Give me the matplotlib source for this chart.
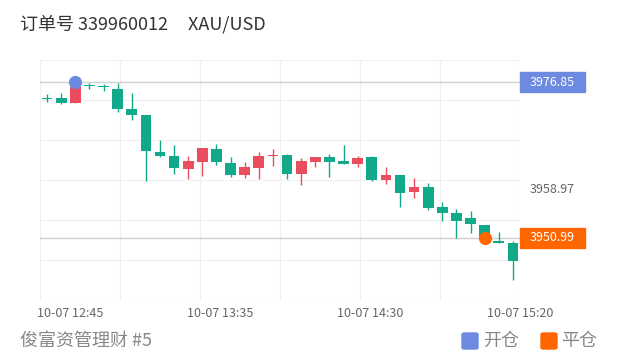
import matplotlib
matplotlib.use("Agg")
import matplotlib.pyplot as plt
import matplotlib.transforms as mtransforms
from matplotlib.patches import Rectangle, FancyBboxPatch
import numpy as np

plt.rcParams['font.family'] = ['Noto Sans CJK SC', 'DejaVu Sans']

# ---- data ----
opens = [3974.07, 3974.19, 3973.36, 3976.35, 3976.24, 3975.74, 3972.36, 3971.41, 3965.30, 3964.64,
         3962.42, 3963.64, 3965.75, 3963.47, 3961.42, 3962.64, 3964.55, 3964.75, 3961.59, 3963.64,
         3964.42, 3963.70, 3963.22, 3964.37, 3960.59, 3961.42, 3958.65, 3959.38, 3956.02, 3955.10,
         3954.27, 3953.02, 3950.44, 3950.16]
highs = [3974.85, 3975.12, 3976.90, 3976.69, 3976.57, 3976.79, 3975.07, 3971.45, 3967.25, 3966.42,
         3964.59, 3965.90, 3966.50, 3964.34, 3963.64, 3965.20, 3965.75, 3964.92, 3964.26, 3964.50,
         3964.97, 3966.42, 3964.59, 3964.59, 3962.71, 3961.50, 3960.87, 3960.09, 3956.93, 3955.82,
         3955.43, 3953.10, 3952.00, 3950.36]
lows = [3973.62, 3973.30, 3973.36, 3975.69, 3975.45, 3971.96, 3970.58, 3960.42, 3964.50, 3961.59,
        3960.68, 3961.26, 3963.09, 3961.01, 3960.87, 3960.71, 3962.84, 3960.71, 3959.76, 3962.71,
        3961.01, 3963.20, 3962.71, 3960.50, 3959.96, 3956.05, 3957.55, 3955.55, 3953.77, 3950.94,
        3951.72, 3950.70, 3950.06, 3944.03]
closes = [3974.07, 3973.36, 3976.00, 3976.18, 3976.02, 3972.36, 3971.36, 3965.42, 3964.59, 3962.64,
          3963.76, 3965.87, 3963.51, 3961.42, 3962.81, 3964.62, 3964.67, 3961.59, 3963.70, 3964.42,
          3963.54, 3963.26, 3964.26, 3960.59, 3961.42, 3958.48, 3959.48, 3955.98, 3955.02, 3953.82,
          3953.24, 3950.90, 3950.16, 3947.16]
tick_labels = ['10-07 12:45', '10-07 13:35', '10-07 14:30', '10-07 15:20']
open_index, open_price = 2, 3976.85
close_index, close_price = 31, 3950.99
mid_label = 3958.97
title = '订单号 339960012     XAU/USD'
footer = '俊富资管理财 #5'
legend_labels = ['开仓', '平仓']

GREEN = '#12a98b'
RED = '#ea4d5d'
BLUE = '#6b8ae0'
ORANGE = '#ff6600'

fig = plt.figure(figsize=(6.2, 3.64), dpi=100)
ax = fig.add_axes([40/620, 64/364, 480/620, 240/364])
n = len(opens)
xlim = (-0.5, n - 0.5)
ylim = (3940.62, 3980.56)
ax.set_xlim(*xlim)
ax.set_ylim(*ylim)

# grid
for gy in np.linspace(ylim[0], ylim[1], 7):
    ax.axhline(gy, color='#f0f0f0', lw=0.8, zorder=0)
for f in np.linspace(0, 1, 7):
    ax.axvline(xlim[0] + f * (xlim[1] - xlim[0]), color='#f0f0f0', lw=0.8, zorder=0)

# price lines
ax.axhline(open_price, color='#d0d0d0', lw=1, zorder=1)
ax.axhline(close_price, color='#d0d0d0', lw=1, zorder=1)

# candles
x = np.arange(n)
o = np.array(opens); c = np.array(closes); h = np.array(highs); l = np.array(lows)
cols = [RED if cc > oo else GREEN for oo, cc in zip(o, c)]
ax.vlines(x, l, h, colors=cols, lw=1, zorder=2)
bottoms = np.minimum(o, c)
heights = np.maximum(np.abs(c - o), 0.2)
ax.bar(x, heights, bottom=bottoms, width=0.76, color=cols, lw=0, zorder=3)

# trade markers
ax.plot([open_index], [open_price], 'o', color=BLUE, ms=9.5, mec='none', zorder=4)
ax.plot([close_index], [close_price], 'o', color=ORANGE, ms=9.5, mec='none', zorder=4)

# axes styling
for s in ax.spines.values():
    s.set_visible(False)
ax.set_yticks([])
fracs = [0.0625, 0.375, 0.6875, 1.0]
ax.set_xticks([xlim[0] + f * (xlim[1] - xlim[0]) for f in fracs])
ax.set_xticklabels(tick_labels, fontsize=9, color='#666666')
ax.tick_params(axis='x', length=0, pad=5)

# right-side labels
trans = mtransforms.blended_transform_factory(ax.transAxes, ax.transData)
bh = 20 / 6.009
for price, colr in [(open_price, BLUE), (close_price, ORANGE)]:
    ax.add_patch(Rectangle((1.0, price - bh / 2), 0.135, bh, transform=trans,
                           color=colr, clip_on=False, zorder=5))
    ax.text(1.0675, price, f'{price:.2f}', transform=trans, ha='center', va='center',
            color='white', fontsize=9, zorder=6, clip_on=False)
ax.text(1.0208, mid_label, f'{mid_label:.2f}', transform=trans, ha='left', va='center',
        color='#666666', fontsize=9, clip_on=False)

# title & footer
fig.text(20/620, 1 - 24/364, title, ha='left', va='center', fontsize=13, color='#333333')
fig.text(20/620, 1 - 341/364, footer, ha='left', va='center', fontsize=13, color='#888888')

# legend
for (sx, tx, colr, lab) in [(462, 483, BLUE, legend_labels[0]), (541, 561, ORANGE, legend_labels[1])]:
    fig.patches.append(FancyBboxPatch((sx/620, 1 - 349/364), 16/620, 16/364,
                                      boxstyle='round,pad=0,rounding_size=0.004',
                                      transform=fig.transFigure, color=colr))
    fig.text(tx/620, 1 - 341/364, lab, ha='left', va='center', fontsize=13, color='#888888')

fig.savefig('out.png', dpi=100)
